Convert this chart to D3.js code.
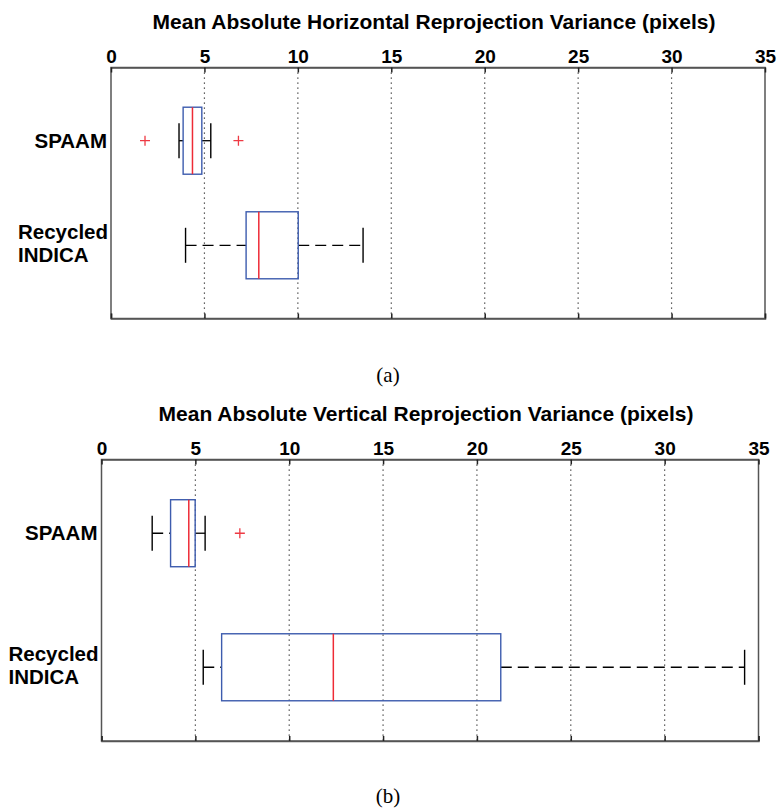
<!DOCTYPE html>
<html>
<head>
<meta charset="utf-8">
<script src="https://cdn.jsdelivr.net/npm/d3@7.8.5/dist/d3.min.js"></script>
<style>
  body { margin: 0; background: #fff; }
  text { font-family: "Liberation Sans", Arial, sans-serif; }
</style>
</head>
<body>
<svg id="chart" width="777" height="810"></svg>
<script>
// categories (top to bottom)
const categories = ['SPAAM', 'Recycled INDICA'];
const tickValues = [0, 5, 10, 15, 20, 25, 30, 35];

// (a) horizontal reprojection variance
const horizWhiskerLow = [3.64, 3.99];
const horizQ1 = [3.86, 7.23];
const horizMedian = [4.36, 7.91];
const horizQ3 = [4.86, 10.02];
const horizWhiskerHigh = [5.34, 13.49];
const horizOutliers = [[1.82, 6.82], []];

// (b) vertical reprojection variance
const vertWhiskerLow = [2.70, 5.42];
const vertQ1 = [3.68, 6.40];
const vertMedian = [4.65, 12.35];
const vertQ3 = [4.99, 21.27];
const vertWhiskerHigh = [5.52, 34.26];
const vertOutliers = [[7.37], []];

const svg = d3.select('#chart');

const panels = [
  {
    title: 'Mean Absolute Horizontal Reprojection Variance (pixels)',
    caption: '(a)',
    left: 111, right: 765, top: 67.5, bottom: 318.5, pad: 0.7, captionY: 382,
    lo: horizWhiskerLow, q1: horizQ1, med: horizMedian, q3: horizQ3, hi: horizWhiskerHigh, out: horizOutliers
  },
  {
    title: 'Mean Absolute Vertical Reprojection Variance (pixels)',
    caption: '(b)',
    left: 101.5, right: 758.5, top: 459.5, bottom: 741, pad: 0.55, captionY: 803,
    lo: vertWhiskerLow, q1: vertQ1, med: vertMedian, q3: vertQ3, hi: vertWhiskerHigh, out: vertOutliers
  }
];

const boxH = 67;
const capLen = 35;

function drawPanel(p) {
  const x = d3.scaleLinear().domain([0, 35]).range([p.left, p.right]);
  const y = d3.scalePoint().domain(categories).range([p.top, p.bottom]).padding(p.pad);
  const g = svg.append('g');

  // dotted grid
  g.selectAll('.grid')
    .data(tickValues.slice(1, -1))
    .join('line')
    .attr('x1', d => x(d)).attr('x2', d => x(d))
    .attr('y1', p.top).attr('y2', p.bottom)
    .attr('stroke', '#333')
    .attr('stroke-width', 1.2)
    .attr('stroke-dasharray', '1.2,3.8');

  // frame
  g.append('rect')
    .attr('x', p.left).attr('y', p.top)
    .attr('width', p.right - p.left).attr('height', p.bottom - p.top)
    .attr('fill', 'none')
    .attr('stroke', '#555')
    .attr('stroke-width', 1.5);

  const top = g.append('g')
    .attr('transform', `translate(0,${p.top})`)
    .call(d3.axisTop(x).tickValues(tickValues).tickSizeInner(-5).tickSizeOuter(0).tickPadding(5));
  top.select('.domain').attr('stroke', '#555').attr('stroke-width', 1.5);
  top.selectAll('.tick line').attr('stroke', '#222').attr('stroke-width', 1.5);
  top.selectAll('.tick text')
    .attr('fill', '#000')
    .style('font-size', '19px')
    .style('font-weight', 'bold');

  const bottom = g.append('g')
    .attr('transform', `translate(0,${p.bottom})`)
    .call(d3.axisBottom(x).tickValues(tickValues).tickSize(-5).tickFormat(''));
  bottom.select('.domain').attr('stroke', '#555').attr('stroke-width', 1.5);
  bottom.selectAll('.tick line').attr('stroke', '#222').attr('stroke-width', 1.5);

  // title
  g.append('text')
    .attr('x', (p.left + p.right) / 2 - 4)
    .attr('y', p.top - 39)
    .attr('text-anchor', 'middle')
    .style('font-size', '21px')
    .style('font-weight', 'bold')
    .text(p.title);

  // category labels
  categories.forEach(c => {
    const words = c.split(' ');
    const cy = y(c);
    const t = g.append('text')
      .style('font-size', '20.5px')
      .style('font-weight', 'bold')
      .attr('fill', '#000');
    if (words.length === 1) {
      t.attr('x', p.left - 4).attr('y', cy + 7).attr('text-anchor', 'end').text(c);
    } else {
      const lineH = 23;
      const spans = words.map((w, j) => t.append('tspan').text(w).attr('y', cy + 5 - lineH / 2 + j * lineH));
      const widest = d3.max(spans, s => s.node().getComputedTextLength());
      spans.forEach(s => s.attr('x', p.left - 3 - widest));
    }
  });

  categories.forEach((c, i) => {
    const cy = y(c);
    // whiskers
    g.append('line')
      .attr('x1', x(p.lo[i])).attr('x2', x(p.q1[i]))
      .attr('y1', cy).attr('y2', cy)
      .attr('stroke', '#000').attr('stroke-width', 1.3)
      .attr('stroke-dasharray', '11,6');
    g.append('line')
      .attr('x1', x(p.q3[i])).attr('x2', x(p.hi[i]))
      .attr('y1', cy).attr('y2', cy)
      .attr('stroke', '#000').attr('stroke-width', 1.3)
      .attr('stroke-dasharray', '11,6');
    [p.lo[i], p.hi[i]].forEach(v => {
      g.append('line')
        .attr('x1', x(v)).attr('x2', x(v))
        .attr('y1', cy - capLen / 2).attr('y2', cy + capLen / 2)
        .attr('stroke', '#000').attr('stroke-width', 1.4);
    });

    // box
    g.append('rect')
      .attr('x', x(p.q1[i])).attr('y', cy - boxH / 2)
      .attr('width', x(p.q3[i]) - x(p.q1[i])).attr('height', boxH)
      .attr('fill', 'none')
      .attr('stroke', '#3d5cae')
      .attr('stroke-width', 1.4);

    // median
    g.append('line')
      .attr('x1', x(p.med[i])).attr('x2', x(p.med[i]))
      .attr('y1', cy - boxH / 2).attr('y2', cy + boxH / 2)
      .attr('stroke', '#ee2b36').attr('stroke-width', 1.5);

    // outliers
    p.out[i].forEach(v => {
      g.append('path')
        .attr('d', `M${x(v) - 5},${cy}H${x(v) + 5}M${x(v)},${cy - 5}V${cy + 5}`)
        .attr('stroke', '#ee3a44').attr('stroke-width', 1.3);
    });
  });

  // caption
  svg.append('text')
    .attr('x', 388)
    .attr('y', p.captionY)
    .attr('text-anchor', 'middle')
    .style('font-family', '"Liberation Serif", "Times New Roman", serif')
    .style('font-size', '21px')
    .text(p.caption);
}

panels.forEach(drawPanel);
</script>
</body>
</html>
